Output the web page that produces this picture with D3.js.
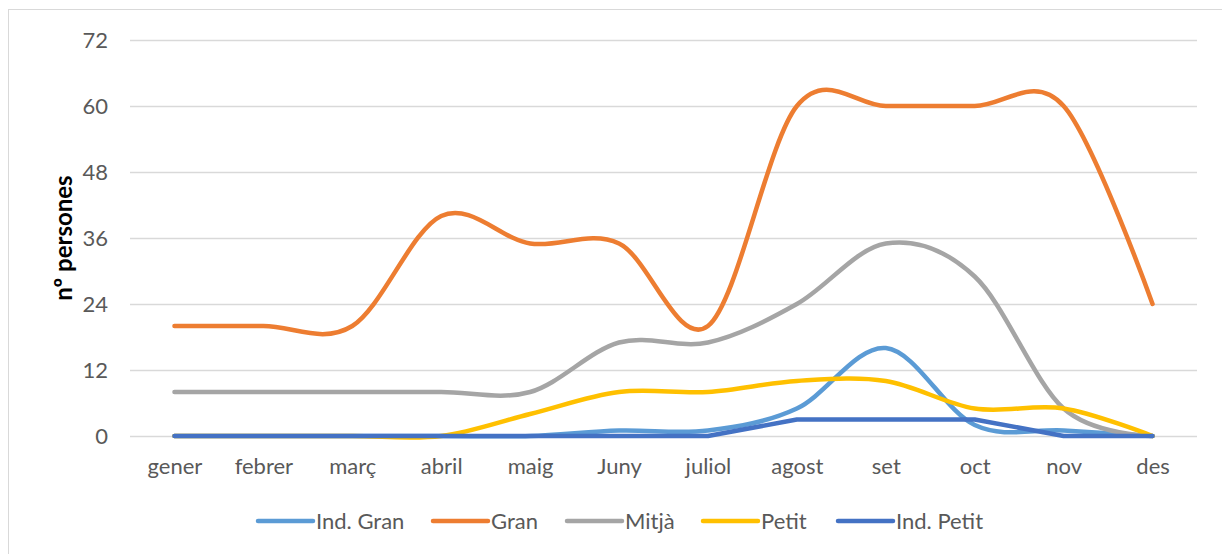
<!DOCTYPE html>
<html><head><meta charset="utf-8">
<script src="https://cdn.jsdelivr.net/npm/d3@7"></script>
<style>body{margin:0;background:#fff}svg{display:block;font-family:Lato,"Open Sans",sans-serif}</style>
</head><body>
<svg id="c" width="1222" height="554"></svg>
<script>
const months = ["gener","febrer","març","abril","maig","Juny","juliol","agost","set","oct","nov","des"];
const yTicks = [0,12,24,36,48,60,72];
const seriesNames = ["Ind. Gran","Gran","Mitjà","Petit","Ind. Petit"];
const indGran  = [0,0,0,0,0,1,1,5,16,2,1,0];
const gran     = [20,20,20,40,35,35,20,60,60,60,60,24];
const mitja    = [8,8,8,8,8,17,17,24,35,29,5,0];
const petit    = [0,0,0,0,4,8,8,10,10,5,5,0];
const indPetit = [0,0,0,0,0,0,0,3,3,3,0,0];
const colors = ["#5B9BD5","#ED7D31","#A5A5A5","#FFC000","#4472C4"];
const smooth = [true,true,true,true,false];
const values = [indGran,gran,mitja,petit,indPetit];

const FONT = "Lato,'Open Sans',sans-serif";
const svg = d3.select("#c");
svg.append("rect").attr("x",8.5).attr("y",9.5).attr("width",1230).attr("height",560)
  .attr("fill","none").attr("stroke","#d9d9d9").attr("stroke-width",1);

const x = d3.scalePoint().domain(months).range([130,1197]).padding(0.5);
const y = d3.scaleLinear().domain([0,72]).range([436,40]);

const gy = svg.append("g").attr("transform","translate(130,0)")
  .call(d3.axisLeft(y).tickValues(yTicks).tickSize(-1067).tickPadding(22));
gy.select(".domain").remove();
gy.selectAll(".tick line").attr("stroke","#d9d9d9").attr("stroke-width",1.3);
gy.selectAll(".tick text").attr("fill","#595959").attr("font-size",22).attr("font-family",FONT);

const gx = svg.append("g").attr("transform","translate(0,436)")
  .call(d3.axisBottom(x).tickSize(0).tickPadding(22));
gx.select(".domain").remove();
gx.selectAll(".tick text").attr("fill","#595959").attr("font-size",22).attr("font-family",FONT);

svg.append("text").attr("transform","translate(72,238) rotate(-90)")
  .attr("text-anchor","middle").attr("font-size",24).attr("font-weight","bold").attr("fill","#000")
  .text("nº persones");

values.forEach((vals,i)=>{
  const line = d3.line().x((d,j)=>x(months[j])).y(d=>y(d))
    .curve(smooth[i] ? d3.curveCardinal.tension(0) : d3.curveLinear);
  svg.append("path").datum(vals).attr("d",line).attr("fill","none")
    .attr("stroke",colors[i]).attr("stroke-width",4.5)
    .attr("stroke-linecap","round").attr("stroke-linejoin","round");
});

const legX = [258,433,567,703,838];
const lg = svg.append("g");
seriesNames.forEach((n,i)=>{
  lg.append("line").attr("x1",legX[i]).attr("x2",legX[i]+55).attr("y1",521).attr("y2",521)
    .attr("stroke",colors[i]).attr("stroke-width",4.5).attr("stroke-linecap","round");
  lg.append("text").attr("x",legX[i]+58).attr("y",529).attr("font-size",22).attr("fill","#595959").text(n);
});
</script>
</body></html>
